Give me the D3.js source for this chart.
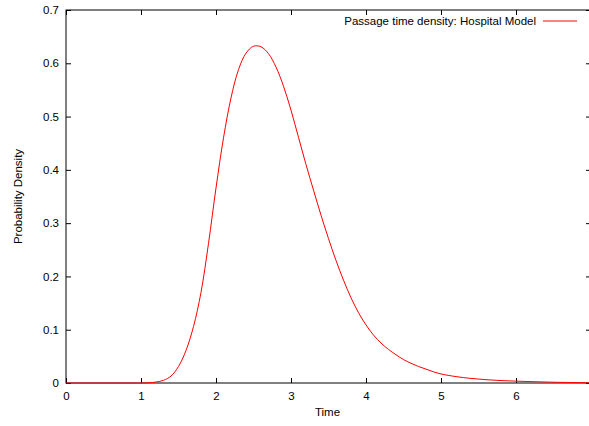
<!DOCTYPE html>
<html>
<head>
<meta charset="utf-8">
<script src="https://cdn.jsdelivr.net/npm/d3@7"></script>
<style>
  body { margin: 0; background: #fff; }
  svg { display: block; font-family: "Liberation Sans", Arial, sans-serif; }
</style>
</head>
<body>
<div id="place"></div>
<script>
// valeurs
const times = [0, 0.2, 0.4, 0.6, 0.8, 1.0, 1.1, 1.2, 1.3, 1.4, 1.5, 1.6, 1.7, 1.8, 1.9,
  2.0, 2.1, 2.2, 2.3, 2.4, 2.5, 2.6, 2.7, 2.8, 2.9, 3.0, 3.1, 3.2, 3.3, 3.4, 3.5,
  3.6, 3.7, 3.8, 3.9, 4.0, 4.1, 4.2, 4.3, 4.4, 4.5, 4.6, 4.7, 4.8, 4.9, 5.0,
  5.2, 5.4, 5.6, 5.8, 6.0, 6.2, 6.4, 6.6, 6.8, 7.0];
const density = [0, 0, 0, 0, 0, 0, 0.0004, 0.0018, 0.005, 0.013, 0.031, 0.061, 0.106, 0.170, 0.262,
  0.366, 0.460, 0.535, 0.588, 0.619, 0.632, 0.631, 0.618, 0.593, 0.557, 0.512, 0.461, 0.410, 0.362, 0.315, 0.271,
  0.230, 0.193, 0.160, 0.132, 0.109, 0.090, 0.075, 0.063, 0.053, 0.044, 0.037, 0.031, 0.026, 0.021, 0.017,
  0.012, 0.0086, 0.0062, 0.0046, 0.0035, 0.0026, 0.0018, 0.0012, 0.0008, 0.0005];
const xTicks = [0, 1, 2, 3, 4, 5, 6];
const yTicks = [0, 0.1, 0.2, 0.3, 0.4, 0.5, 0.6, 0.7];
const legendLabel = "Passage time density: Hospital Model";

const W = 589, H = 426;
const margin = { top: 10, right: -2, bottom: 43, left: 66 };
const width = W - margin.left - margin.right,
  height = H - margin.top - margin.bottom;
const fontSize = 11.5;

let svg = d3.select("#place").append("svg")
  .attr("width", W)
  .attr("height", H);

let g = svg.append("g")
  .attr("transform", "translate(" + margin.left + "," + margin.top + ")");

let x = d3.scaleLinear().domain([0, 7]).range([0, width]);
let y = d3.scaleLinear().domain([0, 0.7]).range([height, 0]);

// axes avec ticks vers l'intérieur (style gnuplot)
let fmt = d => d === 0 ? "0" : d3.format(".1f")(d);

g.append("g")
  .attr("transform", "translate(0," + height + ")")
  .call(d3.axisBottom(x).tickValues(xTicks).tickSize(-5).tickPadding(9).tickFormat(d3.format("d")))
  .call(a => a.select(".domain").remove());

g.append("g")
  .call(d3.axisTop(x).tickValues(xTicks).tickSize(-5).tickFormat(""))
  .call(a => a.select(".domain").remove());

g.append("g")
  .call(d3.axisLeft(y).tickValues(yTicks).tickSize(-5).tickPadding(7).tickFormat(fmt))
  .call(a => a.select(".domain").remove());

g.append("g")
  .attr("transform", "translate(" + width + ",0)")
  .call(d3.axisRight(y).tickValues(yTicks).tickSize(-5).tickFormat(""))
  .call(a => a.select(".domain").remove());

g.selectAll(".tick text")
  .attr("font-size", fontSize)
  .attr("font-family", "Liberation Sans, Arial, sans-serif")
  .attr("fill", "#000");
g.selectAll(".tick line").attr("stroke", "#000");

// cadre
g.append("rect")
  .attr("x", 0).attr("y", 0)
  .attr("width", width).attr("height", height)
  .attr("fill", "none")
  .attr("stroke", "#000")
  .attr("stroke-width", 1);

// courbe
let pts = times.map((t, i) => [t, density[i]]);
let line = d3.line()
  .x(d => x(d[0]))
  .y(d => Math.min(y(d[1]), height))
  .curve(d3.curveCatmullRom.alpha(0.5));

g.append("path")
  .datum(pts)
  .attr("d", line)
  .attr("fill", "none")
  .attr("stroke", "#ff0000")
  .attr("stroke-width", 1);

// légende
g.append("text")
  .attr("x", 470)
  .attr("y", 15)
  .attr("text-anchor", "end")
  .attr("font-size", fontSize)
  .text(legendLabel);

g.append("line")
  .attr("x1", 477).attr("x2", 511)
  .attr("y1", 11).attr("y2", 11)
  .attr("stroke", "#ff0000")
  .attr("stroke-width", 1);

// titres des axes
svg.append("text")
  .attr("x", margin.left + x(3.5) - 1)
  .attr("y", 416)
  .attr("text-anchor", "middle")
  .attr("font-size", fontSize)
  .text("Time");

svg.append("text")
  .attr("transform", "translate(22," + (margin.top + height / 2) + ") rotate(-90)")
  .attr("text-anchor", "middle")
  .attr("font-size", fontSize)
  .text("Probability Density");
</script>
</body>
</html>
